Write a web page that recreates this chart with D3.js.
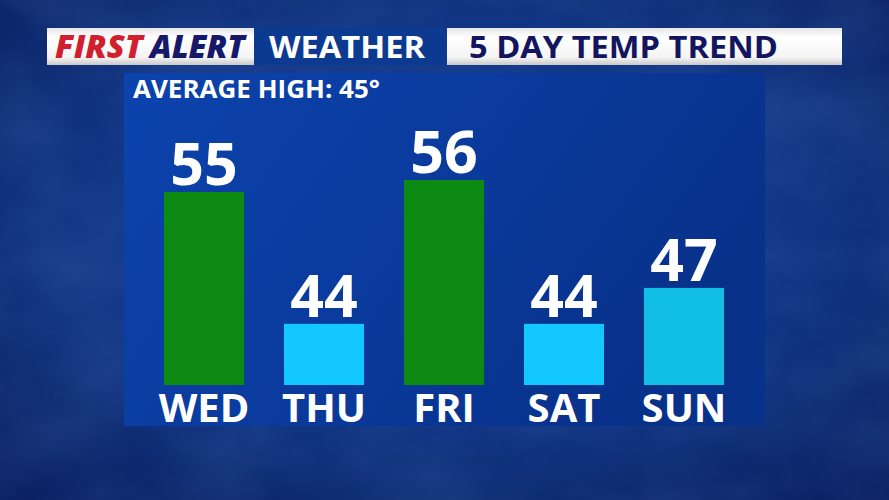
<!DOCTYPE html>
<html><head><meta charset="utf-8">
<script src="https://cdn.jsdelivr.net/npm/d3@7"></script>
<style>html,body{margin:0;padding:0;background:#0b2466;}svg{display:block;}</style>
</head><body><svg id="c" width="889" height="500"></svg>
<script>
const days = ["WED", "THU", "FRI", "SAT", "SUN"];
const temps = [55, 44, 56, 44, 47];
const averageHigh = 45;
const titleBrandA = "FIRST";
const titleBrandB = "ALERT";
const titleMid = "WEATHER";
const titleRight = "5 DAY TEMP TREND";

const svg = d3.select("#c");
const W = 889, H = 500;
const defs = svg.append("defs");

// background gradient + cloud texture
const bg = defs.append("radialGradient").attr("id","bg").attr("cx","50%").attr("cy","45%").attr("r","75%");
bg.append("stop").attr("offset","0%").attr("stop-color","#1646a0");
bg.append("stop").attr("offset","60%").attr("stop-color","#10337f");
bg.append("stop").attr("offset","100%").attr("stop-color","#0a1f5e");
const f = defs.append("filter").attr("id","clouds").attr("x",0).attr("y",0).attr("width","100%").attr("height","100%");
f.append("feTurbulence").attr("type","fractalNoise").attr("baseFrequency","0.008 0.012").attr("numOctaves",4).attr("seed",7).attr("result","n");
f.append("feColorMatrix").attr("in","n").attr("type","matrix")
 .attr("values","0 0 0 0 0.15  0 0 0 0 0.32  0 0 0 0 0.75  0 0 0 0.5 -0.15");
svg.append("rect").attr("width",W).attr("height",H).attr("fill","url(#bg)");
svg.append("rect").attr("width",W).attr("height",H).attr("filter","url(#clouds)").attr("opacity",0.5);

// header
const wg = defs.append("linearGradient").attr("id","wg").attr("x1",0).attr("y1",0).attr("x2",0).attr("y2",1);
wg.append("stop").attr("offset","0%").attr("stop-color","#e6e6e6");
wg.append("stop").attr("offset","25%").attr("stop-color","#ffffff");
wg.append("stop").attr("offset","80%").attr("stop-color","#f4f4f4");
wg.append("stop").attr("offset","100%").attr("stop-color","#c8c8c8");
const hy = 28, hh = 37;
svg.append("rect").attr("x",47).attr("y",hy).attr("width",207).attr("height",hh).attr("fill","url(#wg)");
svg.append("rect").attr("x",254).attr("y",hy).attr("width",193).attr("height",hh).attr("fill","#0b3a90");
svg.append("rect").attr("x",447).attr("y",hy).attr("width",395).attr("height",hh).attr("fill","url(#wg)");
const hfont = "'Open Sans', sans-serif";
svg.append("text").attr("x",55).attr("y",58).attr("font-family",hfont).attr("font-weight",800).attr("font-style","italic")
  .attr("font-size",31).attr("fill","#d21f2f").attr("textLength",88).attr("lengthAdjust","spacingAndGlyphs").text(titleBrandA);
svg.append("text").attr("x",150).attr("y",58).attr("font-family",hfont).attr("font-weight",800).attr("font-style","italic")
  .attr("font-size",31).attr("fill","#16186a").attr("textLength",95).attr("lengthAdjust","spacingAndGlyphs").text(titleBrandB);
svg.append("text").attr("x",269).attr("y",58).attr("font-family",hfont).attr("font-weight",700)
  .attr("font-size",31).attr("fill","#ffffff").attr("textLength",156).attr("lengthAdjust","spacingAndGlyphs").text(titleMid);
svg.append("text").attr("x",469).attr("y",58).attr("font-family",hfont).attr("font-weight",700)
  .attr("font-size",31).attr("fill","#13165e").attr("textLength",309).attr("lengthAdjust","spacingAndGlyphs").text(titleRight);

// panel
const pg = defs.append("linearGradient").attr("id","pg").attr("x1",0).attr("y1",0).attr("x2",1).attr("y2",0.4);
pg.append("stop").attr("offset","0%").attr("stop-color","#0c43ad");
pg.append("stop").attr("offset","55%").attr("stop-color","#0a3a9c");
pg.append("stop").attr("offset","100%").attr("stop-color","#08318a");
const panel = {x:124, y:73, w:641, h:353};
svg.append("rect").attr("x",panel.x).attr("y",panel.y).attr("width",panel.w).attr("height",panel.h).attr("fill","url(#pg)");

svg.append("text").attr("x",133).attr("y",98).attr("font-family",hfont).attr("font-weight",700)
  .attr("font-size",25.5).attr("fill","#ffffff").attr("textLength",247).attr("lengthAdjust","spacingAndGlyphs")
  .text(`AVERAGE HIGH: ${averageHigh}°`);

// scales
const x = d3.scaleBand().domain(days).range([144, 744]).paddingInner(0.3333).paddingOuter(0.1667);
const y = d3.scaleLinear().domain([38.9, 56]).range([385, 180]);
const color = d3.scaleOrdinal().domain(days).range(["#0d8a12","#12c8ff","#0d8a12","#12c8ff","#10bee6"]);

const g = svg.append("g");
g.selectAll("rect.bar").data(days).join("rect").attr("class","bar")
  .attr("x", d => x(d)).attr("width", x.bandwidth())
  .attr("y", (d,i) => y(temps[i])).attr("height", (d,i) => y(38.9) - y(temps[i]))
  .attr("fill", d => color(d));

g.selectAll("text.val").data(days).join("text").attr("class","val")
  .attr("x", d => x(d) + x.bandwidth()/2).attr("y", (d,i) => y(temps[i]) - 7)
  .attr("text-anchor","middle").attr("font-family",hfont).attr("font-weight",700)
  .attr("font-size",59).attr("fill","#ffffff").text((d,i) => temps[i]);

g.selectAll("text.day").data(days).join("text").attr("class","day")
  .attr("x", d => x(d) + x.bandwidth()/2).attr("y", 422)
  .attr("text-anchor","middle").attr("font-family",hfont).attr("font-weight",700)
  .attr("font-size",40).attr("fill","#ffffff").text(d => d);
</script></body></html>
